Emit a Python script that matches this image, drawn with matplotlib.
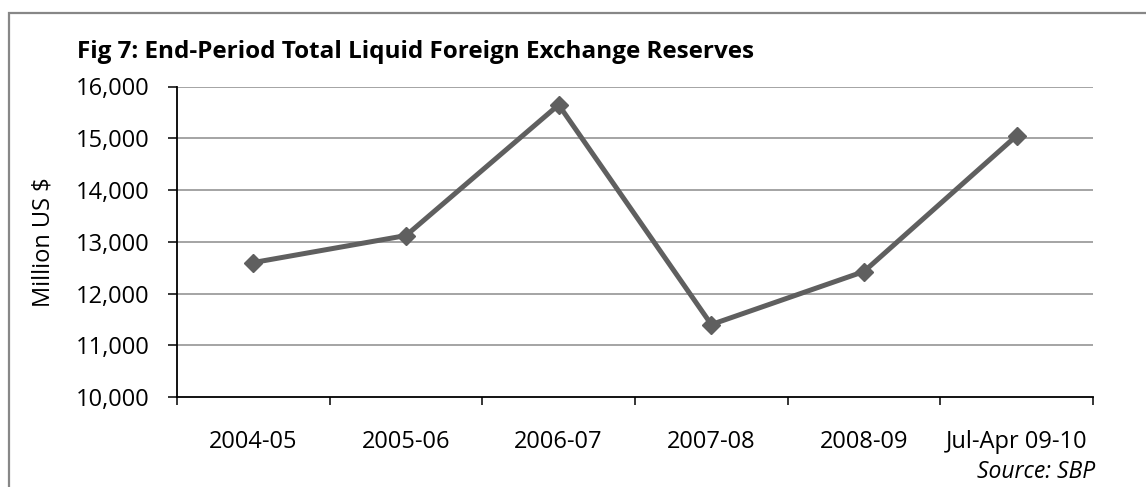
import matplotlib
matplotlib.use("Agg")
import matplotlib.pyplot as plt
from matplotlib.patches import Rectangle
from matplotlib.ticker import FuncFormatter

# End-period total liquid FX reserves (million US$)
periods = ["2004-05", "2005-06", "2006-07", "2007-08", "2008-09", "Jul-Apr 09-10"]
reserves = [12598, 13120, 15646, 11400, 12425, 15050]
y_ticks = [10000, 11000, 12000, 13000, 14000, 15000, 16000]

plt.rcParams['font.family'] = ['Open Sans', 'DejaVu Sans']

W, H = 1146, 487
fig = plt.figure(figsize=(W / 100, H / 100), dpi=100)

# grey frame around the chart area (runs off the right/bottom edge)
fig.patches.append(Rectangle((9 / W, -0.2), 1.2, 1 - 13 / H + 0.2,
                             transform=fig.transFigure, fill=False,
                             edgecolor='#878787', linewidth=1.6))

ax = fig.add_axes([177 / W, 1 - 397 / H, (1093 - 177) / W, (397 - 86.5) / H])

x = list(range(len(periods)))
ax.plot(x, reserves, color='#5f5f5f', linewidth=3.6, marker='D',
        markersize=9.5, markerfacecolor='#5f5f5f', markeredgecolor='#5f5f5f',
        zorder=3, clip_on=False)

ax.set_xlim(-0.5, len(periods) - 0.5)
ax.set_ylim(10000, 16000)
ax.set_yticks(y_ticks)
ax.yaxis.set_major_formatter(FuncFormatter(lambda v, p: f"{int(v):,}"))

ax.set_xticks(x)
ax.set_xticklabels(periods)
ax.set_xticks([i - 0.5 for i in range(len(periods) + 1)], minor=True)
ax.tick_params(axis='x', which='major', length=0, pad=24, labelsize=17)
ax.tick_params(axis='x', which='minor', length=6, width=1.1, color='black')
ax.tick_params(axis='y', length=6.5, width=1.1, pad=13, labelsize=17)

for yv in y_ticks[1:]:
    ax.axhline(yv, color='#8c8c8c', linewidth=1.1, zorder=1)

for side in ['top', 'right']:
    ax.spines[side].set_visible(False)
for side in ['left', 'bottom']:
    ax.spines[side].set_linewidth(1.3)
    ax.spines[side].set_color('black')

ax.set_ylabel("Million US $", fontsize=17, labelpad=15)

fig.text(77 / W, 1 - 58 / H, "Fig 7: End-Period Total Liquid Foreign Exchange Reserves",
         fontsize=17.5, fontweight='bold', ha='left', va='baseline')
fig.text(1095 / W, 1 - 478 / H, "Source: SBP", fontsize=16.5, style='italic',
         ha='right', va='baseline')

fig.savefig("out.png", dpi=100)
plt.close(fig)
